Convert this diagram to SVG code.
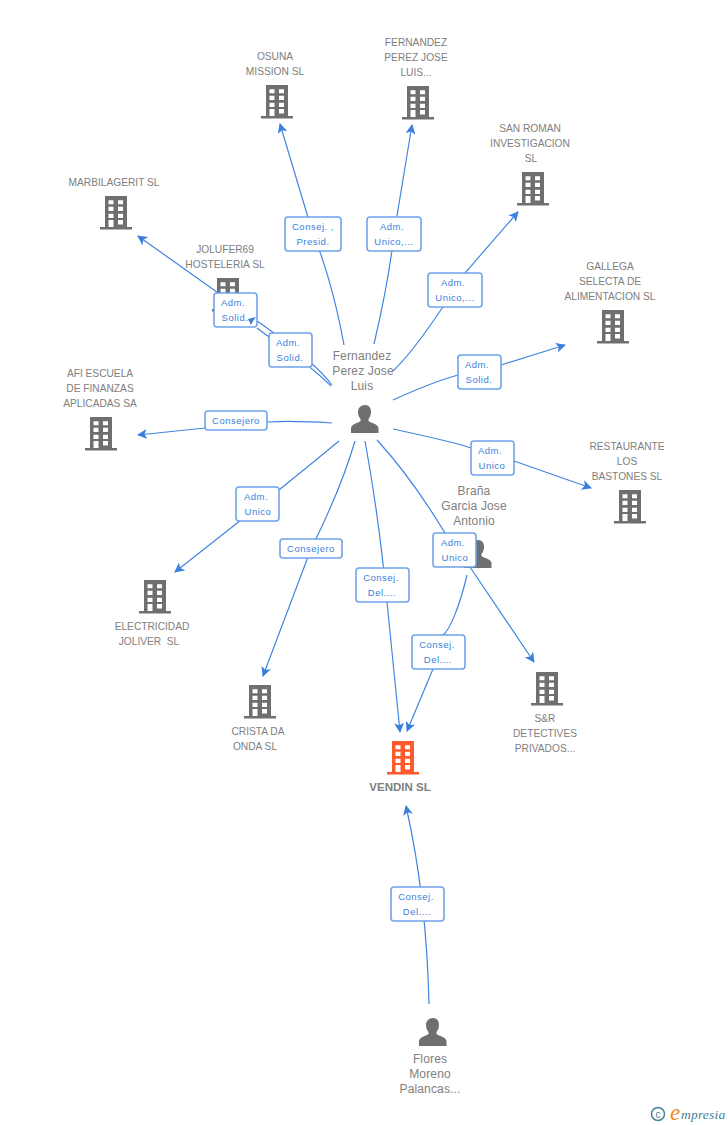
<svg xmlns="http://www.w3.org/2000/svg" width="728" height="1125" viewBox="0 0 728 1125">
<style>
text{font-family:"Liberation Sans",Arial,sans-serif}
.n{font-size:10.2px;fill:#808080;text-anchor:middle}
.p{font-size:12px;fill:#808080;text-anchor:middle;letter-spacing:.15px}
.b{font-size:9.5px;fill:#3a7fdc;text-anchor:middle;letter-spacing:.5px}
.e{fill:none;stroke:#4285e0;stroke-width:1.2;marker-end:url(#a)}
.r{fill:#fff;stroke:#6fa3ea;stroke-width:1.6}
</style>
<defs>
<marker id="a" markerUnits="userSpaceOnUse" markerWidth="10" markerHeight="10" refX="9" refY="5" orient="auto" viewBox="0 0 10 10"><path d="M0 0L10 5L0 10L2.500 5Z" fill="#3a7fdc"/></marker>
<path id="bp" fill-rule="evenodd" d="M5 0H27V31H32V33.500H0V31H5ZM8.500 4.300V8.300H13.500V4.300ZM18 4.300V8.300H23V4.300ZM8.500 10.700V15H13.500V10.700ZM18 10.700V15H23V10.700ZM8.500 17.700V22H13.500V17.700ZM18 17.700V22H23V17.700ZM18 24V28.500H23V24ZM8.500 24V31H13.500V24Z"/>
<path id="pp" d="M14 0C18 0 20 3 20 7C20 10 19 12 17.500 14V16C20 18 27 19 27.500 23V28H0V23C.5 19 7 18 9.500 16V14C8 12 7 10 7 7C7 3 10 0 14 0Z"/>
</defs>
<g id="connectors">
<path class="e" d="M344 345C335 295 322 255 313 234L280 124"/>
<path class="e" d="M374 344C382 310 390 270 394 234L412 125"/>
<path class="e" d="M393 371C415 350 430 325 443 307L465 273L518 212"/>
<path class="e" d="M393 400C415 390 440 380 458 375L501 365L565 345"/>
<path class="e" d="M393 429C420 435 450 441 471 448L514 461L591 488"/>
<path class="e" d="M377 440C400 465 425 500 445 533L470 567L534 662"/>
<path class="e" d="M365 441C375 495 383 560 387 602L400 732"/>
<path class="e" d="M467 575C460 605 450 630 443 635L433 669L407 731"/>
<path class="e" d="M355 441C345 475 328 515 311 549L263 676"/>
<path class="e" d="M339 441C310 465 295 477 279 490L175 572"/>
<path class="e" d="M332 423C300 421 285 421 267 422L205 428L138 435"/>
<path class="e" d="M332 385C322 372 300 352 274 333L214 290L138 236"/>
<path fill="none" stroke="#4285e0" stroke-width="1.200" d="M331 386C320 375 295 355 269 337L257 328"/>
<path class="e" d="M429 1004C428 960 425 890 406 806"/>
</g>
<g id="n1" fill="#6f6f6f"><use href="#bp" x="261" y="85"/><text class="n" x="275" y="60">OSUNA</text><text class="n" x="275" y="75">MISSION SL</text></g>
<g id="n2" fill="#6f6f6f"><use href="#bp" x="402" y="86"/><text class="n" x="416" y="46">FERNANDEZ</text><text class="n" x="416" y="61">PEREZ JOSE</text><text class="n" x="416" y="76">LUIS...</text></g>
<g id="n3" fill="#6f6f6f"><use href="#bp" x="517" y="172"/><text class="n" x="530" y="132">SAN ROMAN</text><text class="n" x="530" y="147">INVESTIGACION</text><text class="n" x="531" y="162">SL</text></g>
<g id="n4" fill="#6f6f6f"><use href="#bp" x="100" y="196"/><text class="n" x="114" y="186">MARBILAGERIT SL</text></g>
<g id="n5" fill="#6f6f6f"><use href="#bp" x="212" y="278"/><text class="n" x="225" y="253">JOLUFER69</text><text class="n" x="225" y="268">HOSTELERIA SL</text></g>
<g id="n6" fill="#6f6f6f"><use href="#bp" x="597" y="310"/><text class="n" x="610" y="270">GALLEGA</text><text class="n" x="610" y="285">SELECTA DE</text><text class="n" x="610" y="300">ALIMENTACION SL</text></g>
<g id="n7" fill="#6f6f6f"><use href="#bp" x="85" y="417"/><text class="n" x="100" y="377">AFI ESCUELA</text><text class="n" x="100" y="392">DE FINANZAS</text><text class="n" x="100" y="407">APLICADAS SA</text></g>
<g id="n8" fill="#6f6f6f"><use href="#bp" x="614" y="490"/><text class="n" x="627" y="450">RESTAURANTE</text><text class="n" x="627" y="465">LOS</text><text class="n" x="627" y="480">BASTONES SL</text></g>
<g id="n9" fill="#6f6f6f"><use href="#bp" x="139" y="580"/><text class="n" x="152" y="630">ELECTRICIDAD</text><text class="n" x="149" y="645">JOLIVER&#160; SL</text></g>
<g id="n10" fill="#6f6f6f"><use href="#bp" x="244" y="685"/><text class="n" x="258" y="735">CRISTA DA</text><text class="n" x="255" y="750">ONDA SL</text></g>
<g id="n11" fill="#6f6f6f"><use href="#bp" x="531" y="672"/><text class="n" x="545" y="722">S&amp;R</text><text class="n" x="545" y="737">DETECTIVES</text><text class="n" x="545" y="752">PRIVADOS...</text></g>
<g id="n12" fill="#ff5a2b"><use href="#bp" x="387" y="741"/><text class="n" x="400" y="791" style="font-weight:bold;font-size:11.500px">VENDIN SL</text></g>
<g id="p1" fill="#6f6f6f"><use href="#pp" x="351" y="405"/><text class="p" x="362" y="360">Fernandez</text><text class="p" x="363" y="375">Perez Jose</text><text class="p" x="362" y="390">Luis</text></g>
<g id="p2" fill="#6f6f6f"><use href="#pp" x="464" y="540"/><text class="p" x="474" y="495">Braña</text><text class="p" x="474" y="510">Garcia Jose</text><text class="p" x="474" y="525">Antonio</text></g>
<g id="p3" fill="#6f6f6f"><use href="#pp" x="419" y="1018"/><text class="p" x="430" y="1063">Flores</text><text class="p" x="430" y="1078">Moreno</text><text class="p" x="430" y="1093">Palancas...</text></g>
<g id="labels">
<g id="l1"><rect class="r" x="285" y="217" width="56" height="34" rx="3"/><text class="b" x="313" y="230">Consej. ,</text><text class="b" x="313" y="245">Presid.</text></g>
<g id="l2"><rect class="r" x="367" y="217" width="54" height="34" rx="3"/><text class="b" x="392" y="230">Adm.</text><text class="b" x="394" y="245">Unico,...</text></g>
<g id="l3"><rect class="r" x="428" y="273" width="54" height="34" rx="3"/><text class="b" x="453" y="286">Adm.</text><text class="b" x="455" y="301">Unico,...</text></g>
<g id="l4"><rect class="r" x="458" y="355" width="43" height="34" rx="3"/><text class="b" x="477" y="368">Adm.</text><text class="b" x="479" y="383">Solid.</text></g>
<g id="l5"><rect class="r" x="471" y="441" width="43" height="34" rx="3"/><text class="b" x="490" y="454">Adm.</text><text class="b" x="492" y="469">Unico</text></g>
<g id="l6"><rect class="r" x="269" y="333" width="43" height="34" rx="3"/><text class="b" x="288" y="346">Adm.</text><text class="b" x="290" y="361">Solid.</text></g>
<g id="l7"><rect class="r" x="214" y="293" width="43" height="34" rx="3"/><text class="b" x="233" y="306">Adm.</text><text class="b" x="235" y="321">Solid.</text></g>
<path fill="#3a7fdc" d="M248 319L256 317L253 321L251 325Z"/>
<g id="l8"><rect class="r" x="205" y="411" width="62" height="19" rx="3"/><text class="b" x="236" y="424">Consejero</text></g>
<g id="l9"><rect class="r" x="236" y="487" width="43" height="34" rx="3"/><text class="b" x="256" y="500">Adm.</text><text class="b" x="258" y="515">Unico</text></g>
<g id="l10"><rect class="r" x="280" y="539" width="62" height="19" rx="3"/><text class="b" x="311" y="552">Consejero</text></g>
<g id="l11"><rect class="r" x="356" y="568" width="53" height="34" rx="3"/><text class="b" x="381" y="581">Consej.</text><text class="b" x="382" y="596">Del....</text></g>
<g id="l12"><rect class="r" x="433" y="533" width="43" height="34" rx="3"/><text class="b" x="453" y="546">Adm.</text><text class="b" x="455" y="561">Unico</text></g>
<g id="l13"><rect class="r" x="412" y="635" width="53" height="34" rx="3"/><text class="b" x="437" y="648">Consej.</text><text class="b" x="438" y="663">Del....</text></g>
<g id="l14"><rect class="r" x="391" y="887" width="53" height="34" rx="3"/><text class="b" x="416" y="900">Consej.</text><text class="b" x="417" y="915">Del....</text></g>
</g>
<g id="logo"><circle cx="658" cy="1114" r="6.500" fill="none" stroke="#4a8296" stroke-width="1.500"/><text x="658" y="1117.500" font-size="10" fill="#4a8296" text-anchor="middle">c</text><text x="670" y="1120" font-size="23" font-style="italic" fill="#f08a1c" style="font-family:'Liberation Serif',serif">e</text><text x="681" y="1119" font-size="13.500" font-style="italic" fill="#3f7f92" letter-spacing=".2" style="font-family:'Liberation Serif',serif">mpresia</text></g>
</svg>
